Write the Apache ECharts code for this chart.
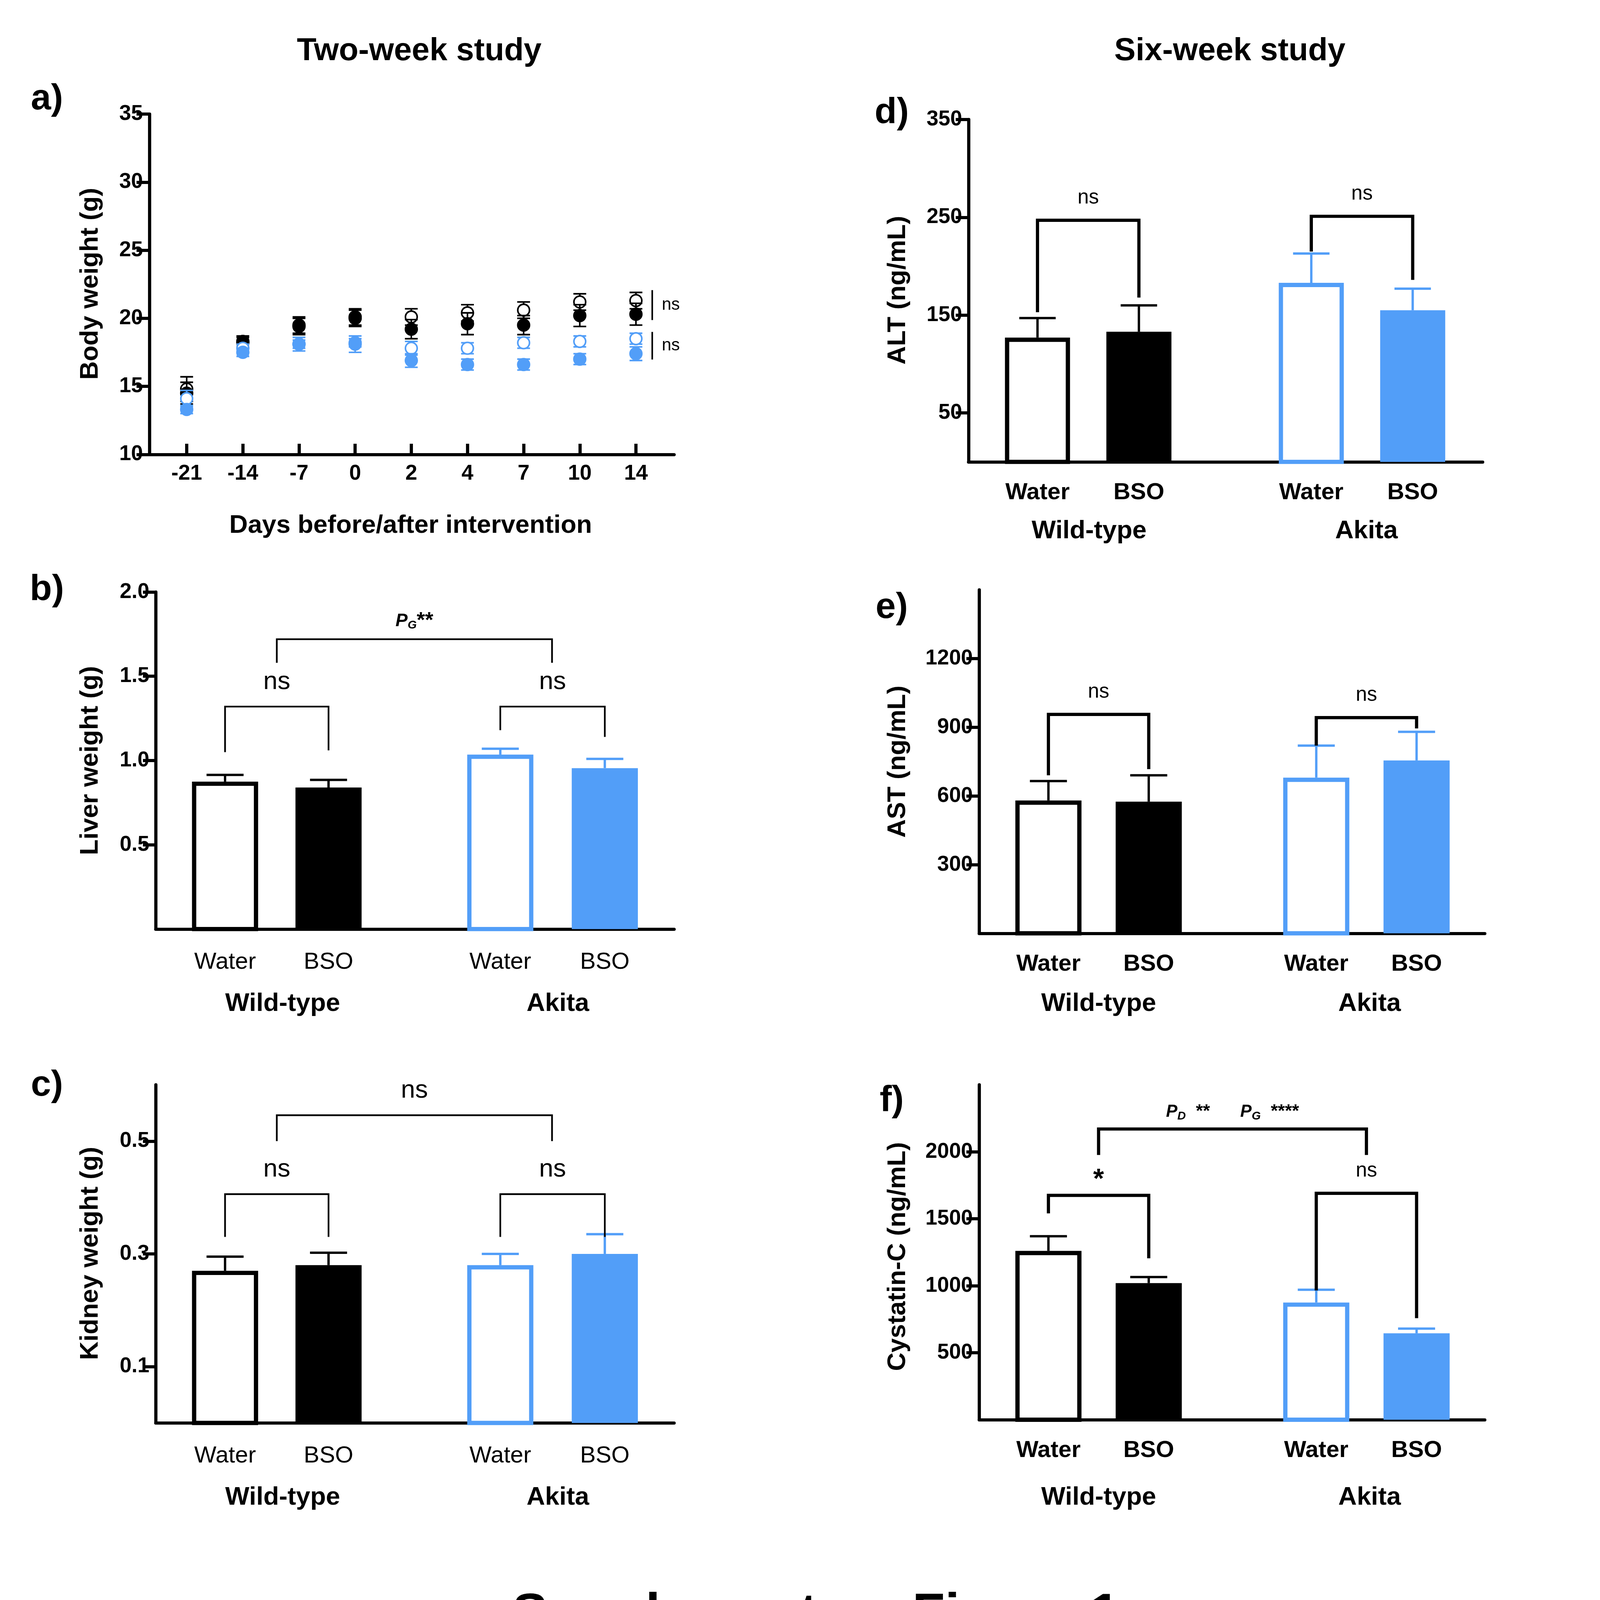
<!DOCTYPE html><html><head><meta charset="utf-8">
<script src="https://cdn.jsdelivr.net/npm/echarts@6/dist/echarts.min.js"></script>
<style>html,body{margin:0;padding:0;background:#fff;overflow:hidden}#c{width:100vw;height:100vh}</style></head><body><div id="c"></div>
<script>
const S = (window.innerWidth||4812)/1500;
const BLUE = '#529ef8';
const FONT = 'Liberation Sans, Arial, sans-serif';
// ---- Panel a data ----
const days = ['-21','-14','-7','0','2','4','7','10','14'];
const wtWater = [14.8,18.2,19.5,20.1,20.1,20.4,20.6,21.2,21.3];
const wtWaterErr = [0.9,0.4,0.6,0.6,0.6,0.6,0.6,0.6,0.6];
const wtBSO = [14.5,18.3,19.4,20.0,19.2,19.6,19.5,20.2,20.3];
const wtBSOErr = [0.8,0.4,0.6,0.6,0.7,0.8,0.7,0.8,0.8];
const akWater = [14.1,17.8,18.1,18.1,17.8,17.8,18.2,18.3,18.5];
const akWaterErr = [0.6,0.3,0.5,0.6,0.5,0.4,0.4,0.4,0.4];
const akBSO = [13.3,17.5,18.1,18.2,16.9,16.6,16.6,17.0,17.4];
const akBSOErr = [0.3,0.3,0.3,0.3,0.5,0.4,0.4,0.4,0.5];
const sigA = [[8.29,22.07,19.87,'ns'],[8.29,19.0,16.97,'ns']];
// ---- Bar panels data ----
const barCats = ['Water','BSO','Water','BSO'];
const groups = ['Wild-type','Akita'];
const liver = [0.875,0.84,1.035,0.955];
const liverErr = [0.915,0.885,1.07,1.01];
const kidney = [0.27,0.28,0.28,0.30];
const kidneyErr = [0.295,0.302,0.30,0.335];
const alt = [127,133,183,155];
const altErr = [147,160,213,177];
const ast = [580,575,680,755];
const astErr = [665,690,820,880];
const cys = [1260,1020,875,645];
const cysErr = [1370,1065,970,680];
const liverSig = [[0.5,3.16,1.72,1.58,1.58,'PG**'],[0,1,1.32,1.05,1.06,'ns'],[2.66,3.67,1.32,1.18,1.14,'ns']];
const kidneySig = [[0.5,3.16,0.546,0.50,0.50,'ns'],[0,1,0.406,0.33,0.33,'ns'],[2.66,3.67,0.406,0.33,0.33,'ns']];
const altSig = [[0,1,247,153,168,'ns'],[2.7,3.7,251,215,186,'ns']];
const astSig = [[0,1,956,690,717,'ns'],[2.67,3.67,942,820,895,'ns']];
const cysSig = [[0,1,1675,1540,1205,'*'],[2.67,3.67,1690,965,758,'ns'],[0.5,3.17,2170,1976,1976,'PDPG']];

const chart = echarts.init(document.getElementById('c'), null, {renderer:'canvas'});
const grids=[], xAxes=[], yAxes=[], series=[], graphics=[];
const p = v => v*S;
function text(x,y,t,size,bold,opts={}){
  graphics.push(Object.assign({type:'text',x:p(x),y:p(y),style:{text:t,fontSize:p(size),fontWeight:bold?'bold':'normal',fontFamily:FONT,fill:'#000',align:'center',verticalAlign:'middle'}},opts));
}
function axisCommon(){return {onZero:false,lineStyle:{color:'#000',width:p(3)}};}

function addGrid(l,t,r,b){grids.push({left:p(l),top:p(t),width:p(r-l),height:p(b-t)});return grids.length-1;}

// Panel a
(function(){
  const gi = addGrid(140,107,632,426);
  xAxes.push({gridIndex:gi,type:'value',min:-0.665,max:8.68,splitLine:{show:false},axisLine:axisCommon(),
    axisTick:{inside:true,length:p(10),lineStyle:{width:p(3),color:'#000'},customValues:[0,1,2,3,4,5,6,7,8]},
    axisLabel:{customValues:[0,1,2,3,4,5,6,7,8],formatter:v=>days[Math.round(v)],fontSize:p(20),fontWeight:'bold',color:'#000',fontFamily:FONT,margin:p(8)}});
  yAxes.push({gridIndex:gi,type:'value',min:10,max:35,interval:5,splitLine:{show:false},axisLine:{show:true,...axisCommon()},
    axisTick:{length:p(12),lineStyle:{width:p(3),color:'#000'}},axisLabel:{fontSize:p(20),fontWeight:'bold',color:'#000',fontFamily:FONT,margin:p(6)}});
  const sets=[[wtWater,wtWaterErr,'#000',false],[wtBSO,wtBSOErr,'#000',true],[akWater,akWaterErr,BLUE,false],[akBSO,akBSOErr,BLUE,true]];
  sets.forEach(([m,e,col,fill])=>{
    series.push({type:'custom',xAxisIndex:xAxes.length-1,yAxisIndex:yAxes.length-1,data:m.map((v,i)=>[i,v,e[i]]),
      renderItem:(params,api)=>{
        const x=api.value(0),v=api.value(1),er=api.value(2);
        const c=api.coord([x,v]),hi=api.coord([x,v+er]),lo=api.coord([x,v-er]);
        const cw=p(6),lw=p(1.5);
        return {type:'group',children:[
          {type:'line',shape:{x1:c[0],y1:hi[1],x2:c[0],y2:lo[1]},style:{stroke:col,lineWidth:lw}},
          {type:'line',shape:{x1:c[0]-cw,y1:hi[1],x2:c[0]+cw,y2:hi[1]},style:{stroke:col,lineWidth:lw}},
          {type:'line',shape:{x1:c[0]-cw,y1:lo[1],x2:c[0]+cw,y2:lo[1]},style:{stroke:col,lineWidth:lw}},
          {type:'circle',shape:{cx:c[0],cy:c[1],r:p(5.5)},style:{fill:fill?col:'#fff',stroke:col,lineWidth:p(1.5)}}
        ]};
      }});
  });
  series.push({type:'custom',xAxisIndex:xAxes.length-1,yAxisIndex:yAxes.length-1,data:sigA.map((s,i)=>[s[0],s[1],s[2]]),
    renderItem:(params,api)=>{
      const s=sigA[params.dataIndex];
      const a=api.coord([s[0],s[1]]),b=api.coord([s[0],s[2]]);
      return {type:'group',children:[
        {type:'line',shape:{x1:a[0],y1:a[1],x2:b[0],y2:b[1]},style:{stroke:'#000',lineWidth:p(1.5)}},
        {type:'text',x:a[0]+p(9),y:(a[1]+b[1])/2,style:{text:s[3],fontSize:p(16),fontFamily:FONT,fill:'#000',align:'left',verticalAlign:'middle'}}
      ]};
    }});
})();

function barPanel(cfg){
  const gi = addGrid(cfg.l,cfg.t,cfg.r,cfg.b);
  xAxes.push({gridIndex:gi,type:'value',min:cfg.min,max:cfg.max,splitLine:{show:false},axisLine:axisCommon(),
    axisTick:{show:false},axisLabel:{customValues:cfg.pos,formatter:v=>{const i=cfg.pos.findIndex(q=>Math.abs(q-v)<1e-6);return barCats[i]||'';},
      fontSize:p(22),fontWeight:cfg.boldCat?'bold':'normal',color:'#000',fontFamily:FONT,margin:p(cfg.catMargin)}});
  yAxes.push({gridIndex:gi,type:'value',min:0,max:cfg.ymax,splitLine:{show:false},axisLine:{show:true,...axisCommon()},
    axisTick:{length:p(12),lineStyle:{width:p(3),color:'#000'},customValues:cfg.ticks},
    axisLabel:{customValues:cfg.ticks,formatter:v=>cfg.dec?v.toFixed(cfg.dec):String(v),fontSize:p(20),fontWeight:'bold',color:'#000',fontFamily:FONT,margin:p(6)}});
  const xi=xAxes.length-1, yi=yAxes.length-1;
  const cols=['#000','#000',BLUE,BLUE], fills=[false,true,false,true];
  series.push({type:'custom',xAxisIndex:xi,yAxisIndex:yi,data:cfg.vals.map((v,i)=>[cfg.pos[i],v,cfg.err[i]]),
    renderItem:(params,api)=>{
      const i=params.dataIndex,col=cols[i];
      const x=api.value(0),v=api.value(1),e=api.value(2);
      const top=api.coord([x,v]),base=api.coord([x,0]),et=api.coord([x,e]);
      const w=p(cfg.bw),lw=p(4);
      const cw=w*0.28;
      return {type:'group',children:[
        {type:'line',shape:{x1:top[0],y1:top[1],x2:top[0],y2:et[1]},style:{stroke:col,lineWidth:p(2.2)}},
        {type:'line',shape:{x1:top[0]-cw,y1:et[1],x2:top[0]+cw,y2:et[1]},style:{stroke:col,lineWidth:p(2.2)}},
        fills[i]?{type:'rect',shape:{x:top[0]-w/2,y:top[1],width:w,height:base[1]-top[1]},style:{fill:col}}
          :{type:'rect',shape:{x:top[0]-w/2+lw/2,y:top[1]+lw/2,width:w-lw,height:base[1]-top[1]-lw/2},style:{fill:'#fff',stroke:col,lineWidth:lw}}
      ]};
    }});
  series.push({type:'custom',xAxisIndex:xi,yAxisIndex:yi,data:cfg.sig.map(s=>[s[0],s[2]]),
    renderItem:(params,api)=>{
      const s=cfg.sig[params.dataIndex];
      const a=api.coord([s[0],s[3]]),b=api.coord([s[0],s[2]]),c=api.coord([s[1],s[2]]),d=api.coord([s[1],s[4]]);
      const mid=(b[0]+c[0])/2;
      let tx;
      const ts={fontFamily:FONT,fill:'#000',align:'center',verticalAlign:'middle'};
      if(s[5]==='PG**'){
        tx={type:'text',x:mid,y:b[1]-p(17),style:Object.assign({},ts,{text:'{i|P}{s|G}{b|**}',rich:{i:{fontSize:p(17),fontWeight:'bold',fontStyle:'italic',fontFamily:FONT},s:{fontSize:p(11),fontWeight:'bold',fontStyle:'italic',fontFamily:FONT,padding:[p(8),0,0,0]},b:{fontSize:p(20),fontWeight:'bold',fontFamily:FONT}}})};
      } else if(s[5]==='PDPG'){
        tx={type:'text',x:mid,y:b[1]-p(16),style:Object.assign({},ts,{text:'{i|P}{s|D}{b|  **      }{i|P}{s|G}{b|  ****}',rich:{i:{fontSize:p(16),fontWeight:'bold',fontStyle:'italic',fontFamily:FONT},s:{fontSize:p(11),fontWeight:'bold',fontStyle:'italic',fontFamily:FONT,padding:[p(8),0,0,0]},b:{fontSize:p(17),fontWeight:'bold',fontFamily:FONT}}})};
      } else if(s[5]==='*'){
        tx={type:'text',x:mid,y:b[1]-p(14),style:Object.assign({},ts,{text:'*',fontSize:p(26),fontWeight:'bold'})};
      } else {
        tx={type:'text',x:mid,y:b[1]-p(cfg.nsOff),style:Object.assign({},ts,{text:'ns',fontSize:p(cfg.nsSize)})};
      }
      return {type:'group',children:[
        {type:'polyline',shape:{points:[a,b,c,d]},style:{stroke:'#000',fill:null,lineWidth:p(cfg.blw)}},tx]};
    }});
}

const geoB={l:146,r:632,min:-0.67,max:4.34,pos:[0,1,2.66,3.67],bw:62,boldCat:false,catMargin:20,blw:1.6,nsSize:24,nsOff:23};
barPanel(Object.assign({},geoB,{t:555,b:871,ymax:2.0,ticks:[0.5,1.0,1.5,2.0],dec:1,vals:liver,err:liverErr,sig:liverSig}));
barPanel(Object.assign({},geoB,{t:1017,b:1334,ymax:0.6,ticks:[0.1,0.3,0.5],dec:1,vals:kidney,err:kidneyErr,sig:kidneySig}));
barPanel({l:908,r:1390,t:112,b:433,min:-0.68,max:4.39,pos:[0,1,2.7,3.7],bw:61,boldCat:true,catMargin:18,blw:3,nsSize:19,nsOff:21,ymax:350,ticks:[50,150,250,350],dec:0,vals:alt,err:altErr,sig:altSig});
const geoE={l:918,r:1392,min:-0.69,max:4.35,pos:[0,1,2.67,3.67],bw:62,boldCat:true,catMargin:18,blw:3,nsSize:19,nsOff:21,dec:0};
barPanel(Object.assign({},geoE,{t:553,b:875,ymax:1500,ticks:[300,600,900,1200],vals:ast,err:astErr,sig:astSig}));
barPanel(Object.assign({},geoE,{t:1017,b:1331,ymax:2500,ticks:[500,1000,1500,2000],vals:cys,err:cysErr,sig:cysSig}));

// texts
text(393,48,'Two-week study',30,true);
text(1153,48,'Six-week study',30,true);
[['a)',44,93],['b)',44,553],['c)',44,1018],['d)',836,106],['e)',836,570],['f)',836,1032]].forEach(([t,x,y])=>text(x,y,t,34,true));
text(385,493,'Days before/after intervention',24,true);
[[85,266,'Body weight (g)'],[85,713,'Liver weight (g)'],[85,1175,'Kidney weight (g)'],[842,272,'ALT (ng/mL)'],[842,714,'AST (ng/mL)'],[842,1178,'Cystatin-C (ng/mL)']].forEach(([x,y,t])=>text(x,y,t,24,true,{rotation:Math.PI/2}));
[[265,523,941],[265,523,1404],[1021,1281,498],[1030,1284,941],[1030,1284,1404]].forEach(([a,b,y])=>{text(a,y,groups[0],24,true);text(b,y,groups[1],24,true);});
text(765,1515,'Supplementary Figure 1',50,true);

chart.setOption({animation:false,backgroundColor:'#fff',grid:grids,xAxis:xAxes,yAxis:yAxes,series:series,graphic:graphics});
</script></body></html>
